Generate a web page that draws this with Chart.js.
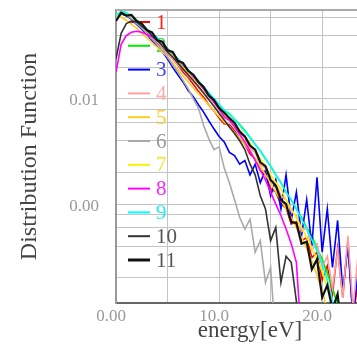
<!DOCTYPE html>
<html>
<head>
<meta charset="utf-8">
<script src="https://cdn.jsdelivr.net/npm/chart.js@4/dist/chart.umd.min.js"></script>
<style>
  html, body { margin: 0; padding: 0; background: #fff; overflow: hidden; }
  #wrap { width: 400px; height: 345px; }
</style>
</head>
<body>
<div id="wrap"><canvas id="dist" width="400" height="345"></canvas></div>
<script>
// energy grid [eV]
const energy = [0, 0.5, 1, 1.5, 2, 2.5, 3, 3.5, 4, 4.5, 5, 5.5, 6, 6.5, 7, 7.5, 8, 8.5, 9, 9.5,
  10, 10.5, 11, 11.5, 12, 12.5, 13, 13.5, 14, 14.5, 15, 15.5, 16, 16.5, 17, 17.5, 18, 18.5, 19, 19.5,
  20, 20.5, 21, 21.5, 22, 22.5, 23, 23.5, 24, 24.5, 25];

const labels = ['1', '2', '3', '4', '5', '6', '7', '8', '9', '10', '11'];
const colors = ['#ff0000', '#00ee00', '#0000ff', '#ff9f9f', '#ffcc22', '#aaaaaa', '#f4f400', '#ff00ff', '#00ffff', '#333333', '#111111'];
const textColors = ['#ff2020', '#33dd33', '#4040ff', '#ffaaaa', '#ffcc33', '#999999', '#eeee22', '#ff22ff', '#22eeee', '#555555', '#555555'];

const f1 = [0.060, 0.067, 0.063, 0.058, 0.053, 0.047, 0.043, 0.039, 0.034, 0.031, 0.027, 0.024, 0.021, 0.018, 0.016, 0.0138, 0.0118, 0.0104, 0.0088, 0.0077,
  0.0066, 0.0058, 0.0057, 0.0050, 0.0042, 0.0037, 0.0030, 0.0027, 0.0021, 0.0019, 0.0014, 0.0013, 0.0010, 0.00092, 0.00065, 0.00068, 0.00045, 0.00048, 0.00031, 0.00035,
  0.00019, 0.00026, 0.00014, 0.00038, 0.00013, 0.00045, 0.00008, 0.0002, 0.00005];
const f2 = [0.062, 0.068, 0.066, 0.061, 0.056, 0.051, 0.046, 0.042, 0.038, 0.034, 0.030, 0.027, 0.024, 0.021, 0.0188, 0.0166, 0.0147, 0.0129, 0.0113, 0.0099,
  0.0087, 0.0076, 0.0072, 0.0064, 0.0057, 0.0050, 0.0043, 0.0037, 0.0032, 0.0027, 0.0023, 0.0019, 0.0016, 0.0013, 0.0011, 0.0009, 0.00075, 0.0006, 0.0005, 0.00038,
  0.00030, 0.00022, 0.00016, 0.00011, 0.00005];
const f3 = [0.057, 0.064, 0.062, 0.057, 0.051, 0.046, 0.041, 0.036, 0.032, 0.028, 0.024, 0.020, 0.017, 0.0145, 0.012, 0.0105, 0.0088, 0.0075, 0.0062, 0.0052,
  0.0044, 0.0039, 0.0031, 0.0029, 0.0024, 0.0026, 0.0019, 0.0024, 0.0016, 0.0021, 0.0012, 0.0017, 0.0009, 0.0019, 0.0007, 0.0013, 0.0005, 0.0011, 0.0004, 0.0018,
  0.00035, 0.0009, 0.00025, 0.0007, 0.00015, 0.0004, 0.00008, 0.00025, 0.00005];
const f4 = [0.059, 0.066, 0.063, 0.059, 0.053, 0.048, 0.043, 0.039, 0.035, 0.031, 0.027, 0.024, 0.021, 0.019, 0.0165, 0.0148, 0.0128, 0.0114, 0.0097, 0.0087,
  0.0074, 0.0066, 0.0062, 0.0056, 0.0047, 0.0043, 0.0034, 0.0031, 0.0024, 0.0022, 0.0017, 0.0016, 0.0012, 0.0011, 0.00085, 0.00078, 0.00055, 0.0006, 0.00037, 0.00042,
  0.00025, 0.00032, 0.00016, 0.00036, 0.00013, 0.0005, 0.0001, 0.00035, 0.00008, 0.00022, 0.00006];
const f5 = [0.064, 0.060, 0.056, 0.051, 0.047, 0.042, 0.038, 0.034, 0.031, 0.028, 0.025, 0.022, 0.019, 0.0165, 0.0145, 0.0127, 0.0113, 0.0099, 0.0088, 0.0077,
  0.0068, 0.0060, 0.0055, 0.0048, 0.0042, 0.0037, 0.0032, 0.0027, 0.0023, 0.0019, 0.0016, 0.0013, 0.0011, 0.0009, 0.00075, 0.0006, 0.00048, 0.00038, 0.00029, 0.00021,
  0.00015, 0.0001, 0.00005];
const f6 = [0.058, 0.065, 0.063, 0.058, 0.052, 0.047, 0.042, 0.037, 0.033, 0.029, 0.025, 0.021, 0.018, 0.015, 0.0125, 0.010, 0.0082, 0.0056, 0.0042, 0.0033,
  0.0035, 0.0022, 0.0016, 0.0011, 0.00075, 0.00058, 0.00072, 0.00035, 0.00045, 0.00018, 0.00025, 0.00005];
const f7 = [0.060, 0.067, 0.065, 0.061, 0.055, 0.050, 0.045, 0.041, 0.037, 0.033, 0.029, 0.026, 0.023, 0.020, 0.0178, 0.0157, 0.0139, 0.0122, 0.0106, 0.0093,
  0.0081, 0.0071, 0.0066, 0.0058, 0.0051, 0.0044, 0.0038, 0.0032, 0.0027, 0.0023, 0.0019, 0.0016, 0.0014, 0.0011, 0.0009, 0.00074, 0.0006, 0.00048, 0.00038, 0.0003,
  0.00023, 0.00016, 0.00011, 0.00005];
const f8 = [0.018, 0.033, 0.040, 0.043, 0.044, 0.043, 0.041, 0.039, 0.036, 0.034, 0.030, 0.027, 0.024, 0.021, 0.0185, 0.0163, 0.0143, 0.0124, 0.0107, 0.0093,
  0.0080, 0.0068, 0.0063, 0.0054, 0.0046, 0.0039, 0.0032, 0.0026, 0.0021, 0.0017, 0.0013, 0.0010, 0.00078, 0.00058, 0.00042, 0.00028, 0.00005];
const f9 = [0.061, 0.068, 0.066, 0.062, 0.056, 0.051, 0.046, 0.042, 0.038, 0.034, 0.030, 0.027, 0.024, 0.0215, 0.019, 0.0168, 0.0149, 0.0131, 0.0115, 0.0101,
  0.0089, 0.0078, 0.0073, 0.0064, 0.0056, 0.0049, 0.0043, 0.0037, 0.0032, 0.0027, 0.0023, 0.0019, 0.0016, 0.0013, 0.0011, 0.0009, 0.00072, 0.00058, 0.00046, 0.00036,
  0.00027, 0.00019, 0.00012, 0.00005];
const f10 = [0.024, 0.042, 0.052, 0.055, 0.054, 0.049, 0.045, 0.040, 0.036, 0.032, 0.028, 0.025, 0.022, 0.0193, 0.017, 0.015, 0.0131, 0.0114, 0.0099, 0.0085,
  0.0073, 0.0063, 0.0054, 0.0047, 0.0040, 0.0033, 0.0024, 0.0019, 0.0012, 0.0009, 0.00045, 0.0006, 0.00018, 0.00032, 0.00028, 0.00012, 0.00005];
const f11 = [0.055, 0.066, 0.062, 0.063, 0.055, 0.052, 0.045, 0.043, 0.036, 0.035, 0.029, 0.028, 0.023, 0.022, 0.0185, 0.017, 0.0145, 0.013, 0.0108, 0.0098,
  0.0082, 0.0074, 0.0066, 0.0059, 0.0049, 0.0044, 0.0036, 0.0033, 0.0025, 0.0023, 0.0017, 0.0015, 0.0011, 0.0010, 0.00068, 0.00066, 0.00042, 0.00044, 0.00024, 0.0003,
  0.00013, 0.00017, 0.0001, 0.00014, 0.00005];

const series = [f1, f2, f3, f4, f5, f6, f7, f8, f9, f10, f11];

const serif = "'Liberation Serif', 'DejaVu Serif', serif";

// key drawn inside the plot, under the curves
const keyPlugin = {
  id: 'key',
  beforeDatasetsDraw(chart) {
    const ctx = chart.ctx;
    const area = chart.chartArea;
    ctx.save();
    ctx.font = '21px ' + serif;
    ctx.textBaseline = 'middle';
    ctx.textAlign = 'left';
    chart.data.datasets.forEach((ds, i) => {
      const y = area.top + 12 + i * 23.8;
      ctx.strokeStyle = ds.borderColor;
      ctx.lineWidth = i === 10 ? 3 : 2;
      ctx.beginPath();
      ctx.moveTo(area.left + 12, y);
      ctx.lineTo(area.left + 34, y);
      ctx.stroke();
      ctx.fillStyle = textColors[i];
      ctx.fillText(ds.label, area.left + 40, y + 1);
    });
    ctx.restore();
  },
  afterDraw(chart) {
    const ctx = chart.ctx;
    const area = chart.chartArea;
    ctx.save();
    ctx.strokeStyle = '#aaaaaa';
    ctx.lineWidth = 2;
    ctx.beginPath();
    ctx.moveTo(area.left, area.top);
    ctx.lineTo(area.right, area.top);
    ctx.stroke();
    ctx.restore();
  }
};

new Chart(document.getElementById('dist'), {
  type: 'line',
  data: {
    datasets: series.map((s, i) => ({
      label: labels[i],
      data: s.map((v, k) => ({ x: energy[k], y: v })),
      borderColor: colors[i],
      borderWidth: i === 10 ? 2.2 : 1.6,
      pointRadius: 0,
      tension: 0,
      order: 11 - i
    }))
  },
  options: {
    responsive: false,
    animation: false,
    layout: { padding: { top: 10, right: 16, left: 0, bottom: 0 } },
    plugins: { legend: { display: false }, tooltip: { enabled: false } },
    scales: {
      x: {
        type: 'linear',
        min: 0,
        max: 26,
        afterFit: (scale) => { scale.height = 42; scale.paddingLeft = 0; scale.paddingRight = 0; },
        border: { color: '#666666', width: 2 },
        grid: { color: '#c4c4c4', lineWidth: 1, drawTicks: false },
        ticks: {
          stepSize: 5,
          autoSkip: false,
          maxRotation: 0,
          padding: 3,
          labelOffset: -5,
          color: '#999999',
          font: { family: serif, size: 17 },
          callback: (v) => (v % 10 === 0 ? (v === 0 ? '0.00' : v.toFixed(1)) : '')
        },
        title: {
          display: true,
          text: 'energy[eV]',
          color: '#444444',
          font: { family: serif, size: 23 },
          padding: { top: 0, bottom: 0 }
        }
      },
      y: {
        type: 'logarithmic',
        min: 0.000115,
        max: 0.07,
        afterFit: (scale) => { scale.width = 116; scale.paddingTop = 0; scale.paddingBottom = 0; },
        border: { color: '#999999', width: 2 },
        grid: { color: '#c4c4c4', lineWidth: 1, drawTicks: false },
        ticks: {
          autoSkip: false,
          padding: 17,
          labelOffset: 2,
          color: '#999999',
          font: { family: serif, size: 17 },
          callback: (v) => {
            const m = Math.round(v / Math.pow(10, Math.floor(Math.log10(v) + 1e-9)) * 100) / 100;
            if (m === 1) return v.toFixed(2);
            if (m === 2 || m === 4 || m === 6 || m === 8) return '';
            return null;
          }
        },
        title: {
          display: true,
          text: 'Distribution Function',
          color: '#444444',
          font: { family: serif, size: 24 },
          padding: { top: 15, bottom: 0 }
        }
      }
    }
  },
  plugins: [keyPlugin]
});
</script>
</body>
</html>
